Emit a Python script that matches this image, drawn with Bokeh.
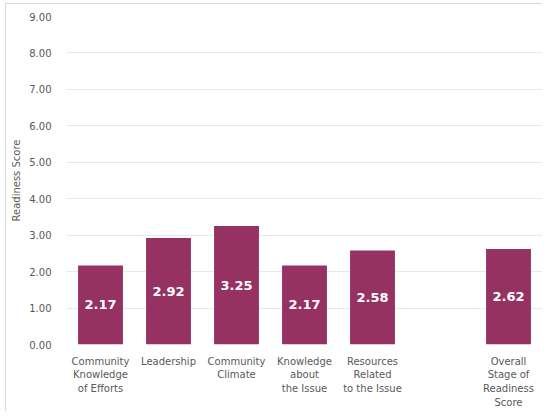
from bokeh.plotting import figure
from bokeh.models import ColumnDataSource, FactorRange, SingleIntervalTicker, NumeralTickFormatter
from bokeh.embed import file_html
from bokeh.resources import INLINE
from bokeh.core.properties import value

categories = ["Community\nKnowledge\nof Efforts", "Leadership", "Community\nClimate",
              "Knowledge\nabout\nthe Issue", "Resources\nRelated\nto the Issue",
              "Overall\nStage of\nReadiness\nScore"]
scores = [2.17, 2.92, 3.25, 2.17, 2.58, 2.62]
score_text = ["2.17", "2.92", "3.25", "2.17", "2.58", "2.62"]
spacer = " "
factors = categories[:5] + [spacer] + categories[5:]

FONT = "DejaVu Sans"
GRAY = "#595959"
BAR = "#963262"
EDGE = "#d9d9d9"

source = ColumnDataSource(dict(cat=categories, score=scores,
                               mid=[s / 2 for s in scores], txt=score_text))

p = figure(x_range=FactorRange(factors=factors), y_range=(0, 9),
           width=542, height=411, output_backend="svg", toolbar_location=None,
           min_border_left=66, min_border_right=0, min_border_top=16, min_border_bottom=60)
p.outline_line_color = None
p.border_fill_color = None
p.background_fill_color = "white"
p.styles = {
    "background": (f"linear-gradient({EDGE},{EDGE}) 5px 3px / 1px 100% no-repeat, "
                   f"linear-gradient({EDGE},{EDGE}) 5px 3px / 100% 1px no-repeat, white"),
}

p.vbar(x="cat", top="score", width=0.66, source=source, fill_color=BAR,
       line_color=None)
p.text(x="cat", y="mid", text="txt", source=source, text_color="white",
       text_font=value(FONT), text_font_style="bold", text_font_size="13px",
       text_align="center", text_baseline="middle")

p.yaxis.ticker = SingleIntervalTicker(interval=1)
p.yaxis.formatter = NumeralTickFormatter(format="0.00")
p.yaxis.axis_line_color = None
p.yaxis.major_tick_line_color = None
p.yaxis.minor_tick_line_color = None
p.yaxis.major_label_text_font = FONT
p.yaxis.major_label_text_font_size = "10px"
p.yaxis.major_label_text_color = GRAY
p.yaxis.major_label_standoff = 9
p.yaxis.axis_label = "Readiness Score"
p.yaxis.axis_label_text_font = FONT
p.yaxis.axis_label_text_font_size = "10px"
p.yaxis.axis_label_text_font_style = "normal"
p.yaxis.axis_label_text_color = GRAY
p.yaxis.axis_label_standoff = 4

p.xaxis.axis_line_color = None
p.xaxis.major_tick_line_color = None
p.xaxis.minor_tick_line_color = None
p.xaxis.major_label_text_font = FONT
p.xaxis.major_label_text_font_size = "10px"
p.xaxis.major_label_text_color = GRAY
p.xaxis.major_label_standoff = 5
p.xaxis.major_label_text_line_height = 1.27

p.xgrid.grid_line_color = None
p.ygrid.grid_line_color = "#e8e8e8"
p.ygrid.grid_line_width = 1

open("out.html", "w").write(file_html(p, INLINE))
